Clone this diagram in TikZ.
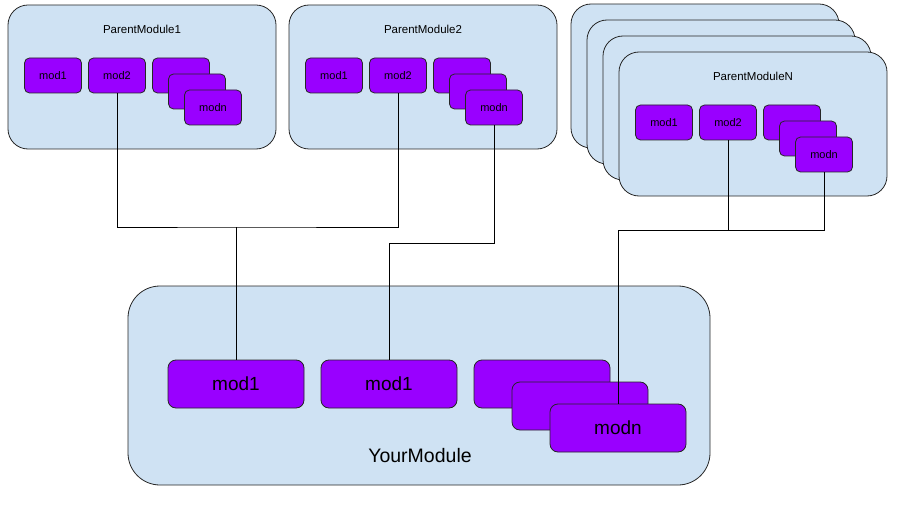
\documentclass[tikz,border=0pt]{standalone}
\usepackage{fontspec}
\setmainfont{Liberation Sans}
\usetikzlibrary{positioning}
\definecolor{modblue}{HTML}{CFE2F3}
\definecolor{modpurple}{HTML}{9900FF}
\tikzset{pbox/.style={draw=black!85,fill=modblue,rounded corners=20pt,minimum width=268pt,minimum height=144pt,inner sep=0pt}}
\tikzset{ybox/.style={draw=black!85,fill=modblue,rounded corners=32pt,minimum width=582pt,minimum height=199pt,inner sep=0pt}}
\tikzset{smod/.style={draw=black!85,fill=modpurple,rounded corners=5pt,minimum width=57pt,minimum height=35pt,inner sep=0pt,font=\fontsize{11}{11}\selectfont}}
\tikzset{bmod/.style={draw=black!85,fill=modpurple,rounded corners=8pt,minimum width=136pt,minimum height=48pt,inner sep=0pt,font=\fontsize{19}{19}\selectfont}}
\tikzset{t/.style={font=\fontsize{11.5}{11.5}\selectfont}}
\tikzset{bt/.style={font=\fontsize{19.5}{19.5}\selectfont}}

\begin{document}
\begin{tikzpicture}[x=1pt,y=-1pt,line width=0.8pt]
  \useasboundingbox (0,0) rectangle (901,505);
  % stacked copies behind ParentModuleN
  \foreach \i in {0,1,2}
    \node[pbox] (pnback\i) at (705+16*\i,76+16*\i) {};
  % parent modules
  \foreach \n/\cx/\cy/\txt in {pa/142/77/ParentModule1,pb/423/77/ParentModule2,pn/753/124/ParentModuleN} {
    \node[pbox] (\n) at (\cx,\cy) {};
    \node[t] (\n-title) at (\cx,\cy-48) {\txt};
    \node[smod] (\n-1) at (\cx-89,\cy-1.5) {mod1};
    \node[smod] (\n-2) at (\cx-25,\cy-1.5) {mod2};
    \node[smod] (\n-s1) at (\cx+39,\cy-1.5) {};
    \node[smod] (\n-s2) at (\cx+55,\cy+14.5) {};
    \node[smod] (\n-n) at (\cx+71,\cy+30.5) {modn};
  }
  % your module
  \node[ybox] (ym) at (419,385.5) {};
  \node[bt] (ym-title) at (420,456) {YourModule};
  \node[bmod] (ya) at (236,384) {mod1};
  \node[bmod] (yb) at (389,384) {mod1};
  \node[bmod] (yc1) at (542,384) {};
  \node[bmod] (yc2) at (580,406) {};
  \node[bmod] (yc3) at (618,428) {modn};
  % connectors
  \coordinate (jab) at (236,227);
  \coordinate (jb) at (389,243);
  \coordinate (jn) at (618,230);
  \draw (pa-2.south) |- (jab) -| (pb-2.south);
  \draw (jab) -- (ya.north);
  \draw (pb-n.south) |- (jb) -- (yb.north);
  \draw (pn-2.south) |- (jn) -- (yc3.north);
  \draw (pn-n.south) |- (jn);
\end{tikzpicture}
\end{document}
